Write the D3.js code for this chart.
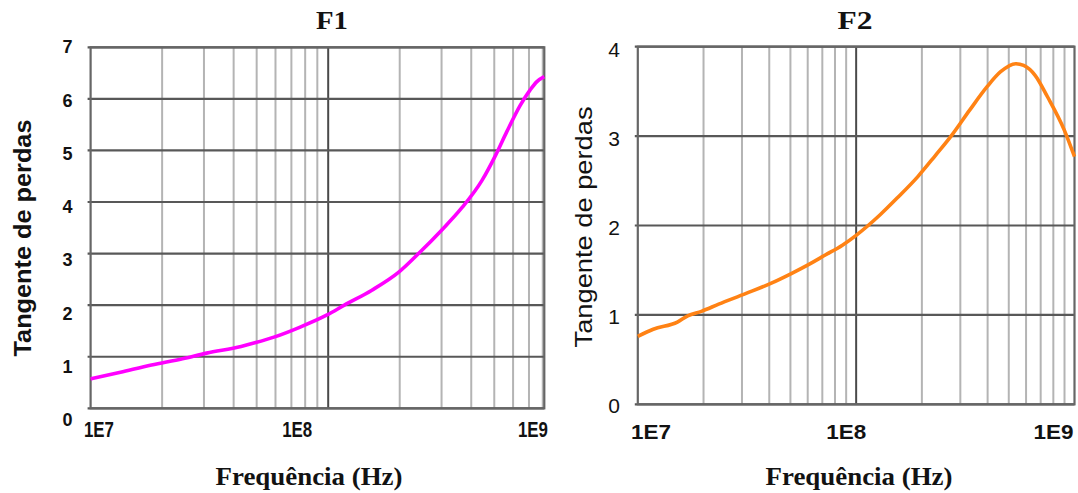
<!DOCTYPE html>
<html><head><meta charset="utf-8">
<script src="https://cdn.jsdelivr.net/npm/d3@7"></script>
<style>html,body{margin:0;padding:0;background:#fff;} svg{display:block;}</style>
</head><body><svg id="c" width="1078" height="493"></svg>
<script>
// ---------- data ----------
const chartTitles = ["F1", "F2"];
const xAxisTitle = "Frequência (Hz)";
const yAxisTitle = "Tangente de perdas";
const xTickValues = [1e7, 1e8, 1e9];
const xTickLabels = ["1E7", "1E8", "1E9"];
const f1YTicks = [0, 1, 2, 3, 4, 5, 6, 7];
const f2YTicks = [0, 1, 2, 3, 4];

const f1Freq = [1.0e7, 1.336e7, 1.805e7, 2.437e7, 3.078e7, 4.30e7, 4.91e7, 6.00e7, 7.58e7, 9.89e7,
                1.17e8, 1.527e8, 1.994e8, 2.437e8, 2.98e8, 3.64e8, 4.44e8, 5.08e8, 5.64e8, 6.42e8,
                7.07e8, 7.54e8, 8.12e8];
const f1Loss = [0.57, 0.70, 0.84, 0.96, 1.07, 1.20, 1.27, 1.39, 1.57, 1.81,
                2.00, 2.29, 2.65, 3.03, 3.44, 3.88, 4.42, 4.92, 5.36, 5.87,
                6.17, 6.33, 6.43];

const f2Freq = [1.0e7, 1.177e7, 1.518e7, 1.693e7, 1.956e7, 2.346e7, 3.134e7, 4.04e7, 5.02e7, 6.02e7,
                7.22e7, 8.65e7, 1.0e8, 1.288e8, 1.545e8, 1.921e8, 2.30e8, 2.76e8, 3.31e8, 3.97e8,
                4.59e8, 5.38e8, 5.85e8, 6.6e8, 7.52e8, 8.97e8, 1.0e9];
const f2Loss = [0.76, 0.84, 0.92, 0.99, 1.04, 1.12, 1.24, 1.35, 1.46, 1.56,
                1.67, 1.78, 1.89, 2.12, 2.31, 2.55, 2.78, 3.02, 3.29, 3.55,
                3.72, 3.81, 3.79, 3.68, 3.44, 3.07, 2.77];

// ---------- layout ----------
const panels = [
  {
    title: chartTitles[0], freq: f1Freq, loss: f1Loss, yTicks: f1YTicks,
    xDomain: [1e7, 8.12e8], xRange: [90.6, 544.3],
    yDomain: [0, 7], yRange: [408.3, 47.3], yLabelRange: [420, 46.7],
    color: "#ff00ff",
    titleX: 332, titleLen: 32,
    xLabelDx: [-6.6, -31, -17.8], xLabelY: 437, xLabelSize: 22, xLabelLen: 30,
    yLabelX: 72.5, yLabelSize: 18, yLabelWeight: "bold",
    xTitleX: 309, yTitleX: 31, yTitleY: 238, yTitleLen: 237, yTitleWeight: "bold"
  },
  {
    title: chartTitles[1], freq: f2Freq, loss: f2Loss, yTicks: f2YTicks,
    xDomain: [1e7, 1e9], xRange: [637.8, 1074.5],
    yDomain: [0, 4], yRange: [404.3, 46.7], yLabelRange: [405.8, 49.5],
    color: "#ff8214",
    titleX: 855, titleLen: 35,
    xLabelDx: [-6.8, -10, -1], xLabelY: 438.5, xLabelSize: 19.5, xLabelLen: 40,
    yLabelX: 620, yLabelSize: 21, yLabelWeight: "normal",
    xTitleX: 859, yTitleX: 592, yTitleY: 227, yTitleLen: 241, yTitleWeight: "normal"
  }
];

const svg = d3.select("#c");
svg.append("rect").attr("width", 1078).attr("height", 493).attr("fill", "#fff");
const textColor = "#121212";
const isDecade = v => Math.abs(Math.log10(v) - Math.round(Math.log10(v))) < 1e-9;

panels.forEach(p => {
  const g = svg.append("g");
  const x = d3.scaleLog().domain(p.xDomain).range(p.xRange);
  const y = d3.scaleLinear().domain(p.yDomain).range(p.yRange);
  const yl = d3.scaleLinear().domain(p.yDomain).range(p.yLabelRange);

  // vertical gridlines
  const vt = x.ticks().filter(v => v > p.xDomain[0] * 1.0001 && v < p.xDomain[1] * 0.9999);
  g.selectAll(".vg").data(vt).join("line")
    .attr("x1", d => x(d)).attr("x2", d => x(d))
    .attr("y1", y(p.yDomain[0])).attr("y2", y(p.yDomain[1]))
    .attr("stroke", d => isDecade(d) ? "#4a4a4a" : "#b4b4b4")
    .attr("stroke-width", 2);

  // horizontal gridlines
  g.selectAll(".hg").data(p.yTicks).join("line")
    .attr("x1", p.xRange[0] - 3).attr("x2", p.xRange[1])
    .attr("y1", d => y(d)).attr("y2", d => y(d))
    .attr("stroke", "#585858").attr("stroke-width", 2.2);

  // frame
  g.append("rect")
    .attr("x", p.xRange[0]).attr("y", y(p.yDomain[1]))
    .attr("width", p.xRange[1] - p.xRange[0])
    .attr("height", y(p.yDomain[0]) - y(p.yDomain[1]))
    .attr("fill", "none").attr("stroke", "#666").attr("stroke-width", 2.2);

  // curve
  const line = d3.line()
    .x((d, i) => x(p.freq[i]))
    .y(d => y(d))
    .curve(d3.curveMonotoneX);
  g.append("path").datum(p.loss)
    .attr("d", line)
    .attr("fill", "none").attr("stroke", p.color)
    .attr("stroke-width", 3.6).attr("stroke-linejoin", "round");

  // x tick labels
  const anchors = ["start", "middle", "end"];
  g.selectAll(".xl").data(xTickValues).join("text")
    .attr("x", (d, i) => x(d) + p.xLabelDx[i])
    .attr("y", p.xLabelY)
    .attr("text-anchor", (d, i) => anchors[i])
    .attr("font-family", "Liberation Sans, Arial, sans-serif")
    .attr("font-weight", "bold")
    .attr("font-size", p.xLabelSize)
    .attr("textLength", p.xLabelLen)
    .attr("lengthAdjust", "spacingAndGlyphs")
    .attr("fill", textColor)
    .text((d, i) => xTickLabels[i]);

  // y tick labels
  g.selectAll(".yl").data(p.yTicks).join("text")
    .attr("x", p.yLabelX)
    .attr("y", d => yl(d))
    .attr("dy", "0.36em")
    .attr("text-anchor", "end")
    .attr("font-family", "Liberation Sans, Arial, sans-serif")
    .attr("font-weight", p.yLabelWeight)
    .attr("font-size", p.yLabelSize)
    .attr("fill", textColor)
    .text(d => d);

  // chart title
  g.append("text")
    .attr("x", p.titleX).attr("y", 29)
    .attr("text-anchor", "middle")
    .attr("font-family", "Liberation Serif, Times New Roman, serif")
    .attr("font-weight", "bold").attr("font-size", 26)
    .attr("textLength", p.titleLen).attr("lengthAdjust", "spacingAndGlyphs")
    .attr("fill", textColor)
    .text(p.title);

  // x axis title
  g.append("text")
    .attr("x", p.xTitleX).attr("y", 485)
    .attr("text-anchor", "middle")
    .attr("font-family", "Liberation Serif, Times New Roman, serif")
    .attr("font-weight", "bold").attr("font-size", 25)
    .attr("textLength", 187).attr("lengthAdjust", "spacingAndGlyphs")
    .attr("fill", textColor)
    .text(xAxisTitle);

  // y axis title
  g.append("text")
    .attr("transform", `translate(${p.yTitleX},${p.yTitleY}) rotate(-90)`)
    .attr("text-anchor", "middle")
    .attr("font-family", "Liberation Sans, Arial, sans-serif")
    .attr("font-weight", p.yTitleWeight).attr("font-size", 24)
    .attr("textLength", p.yTitleLen).attr("lengthAdjust", "spacingAndGlyphs")
    .attr("fill", textColor)
    .text(yAxisTitle);
});
</script>
</body></html>
